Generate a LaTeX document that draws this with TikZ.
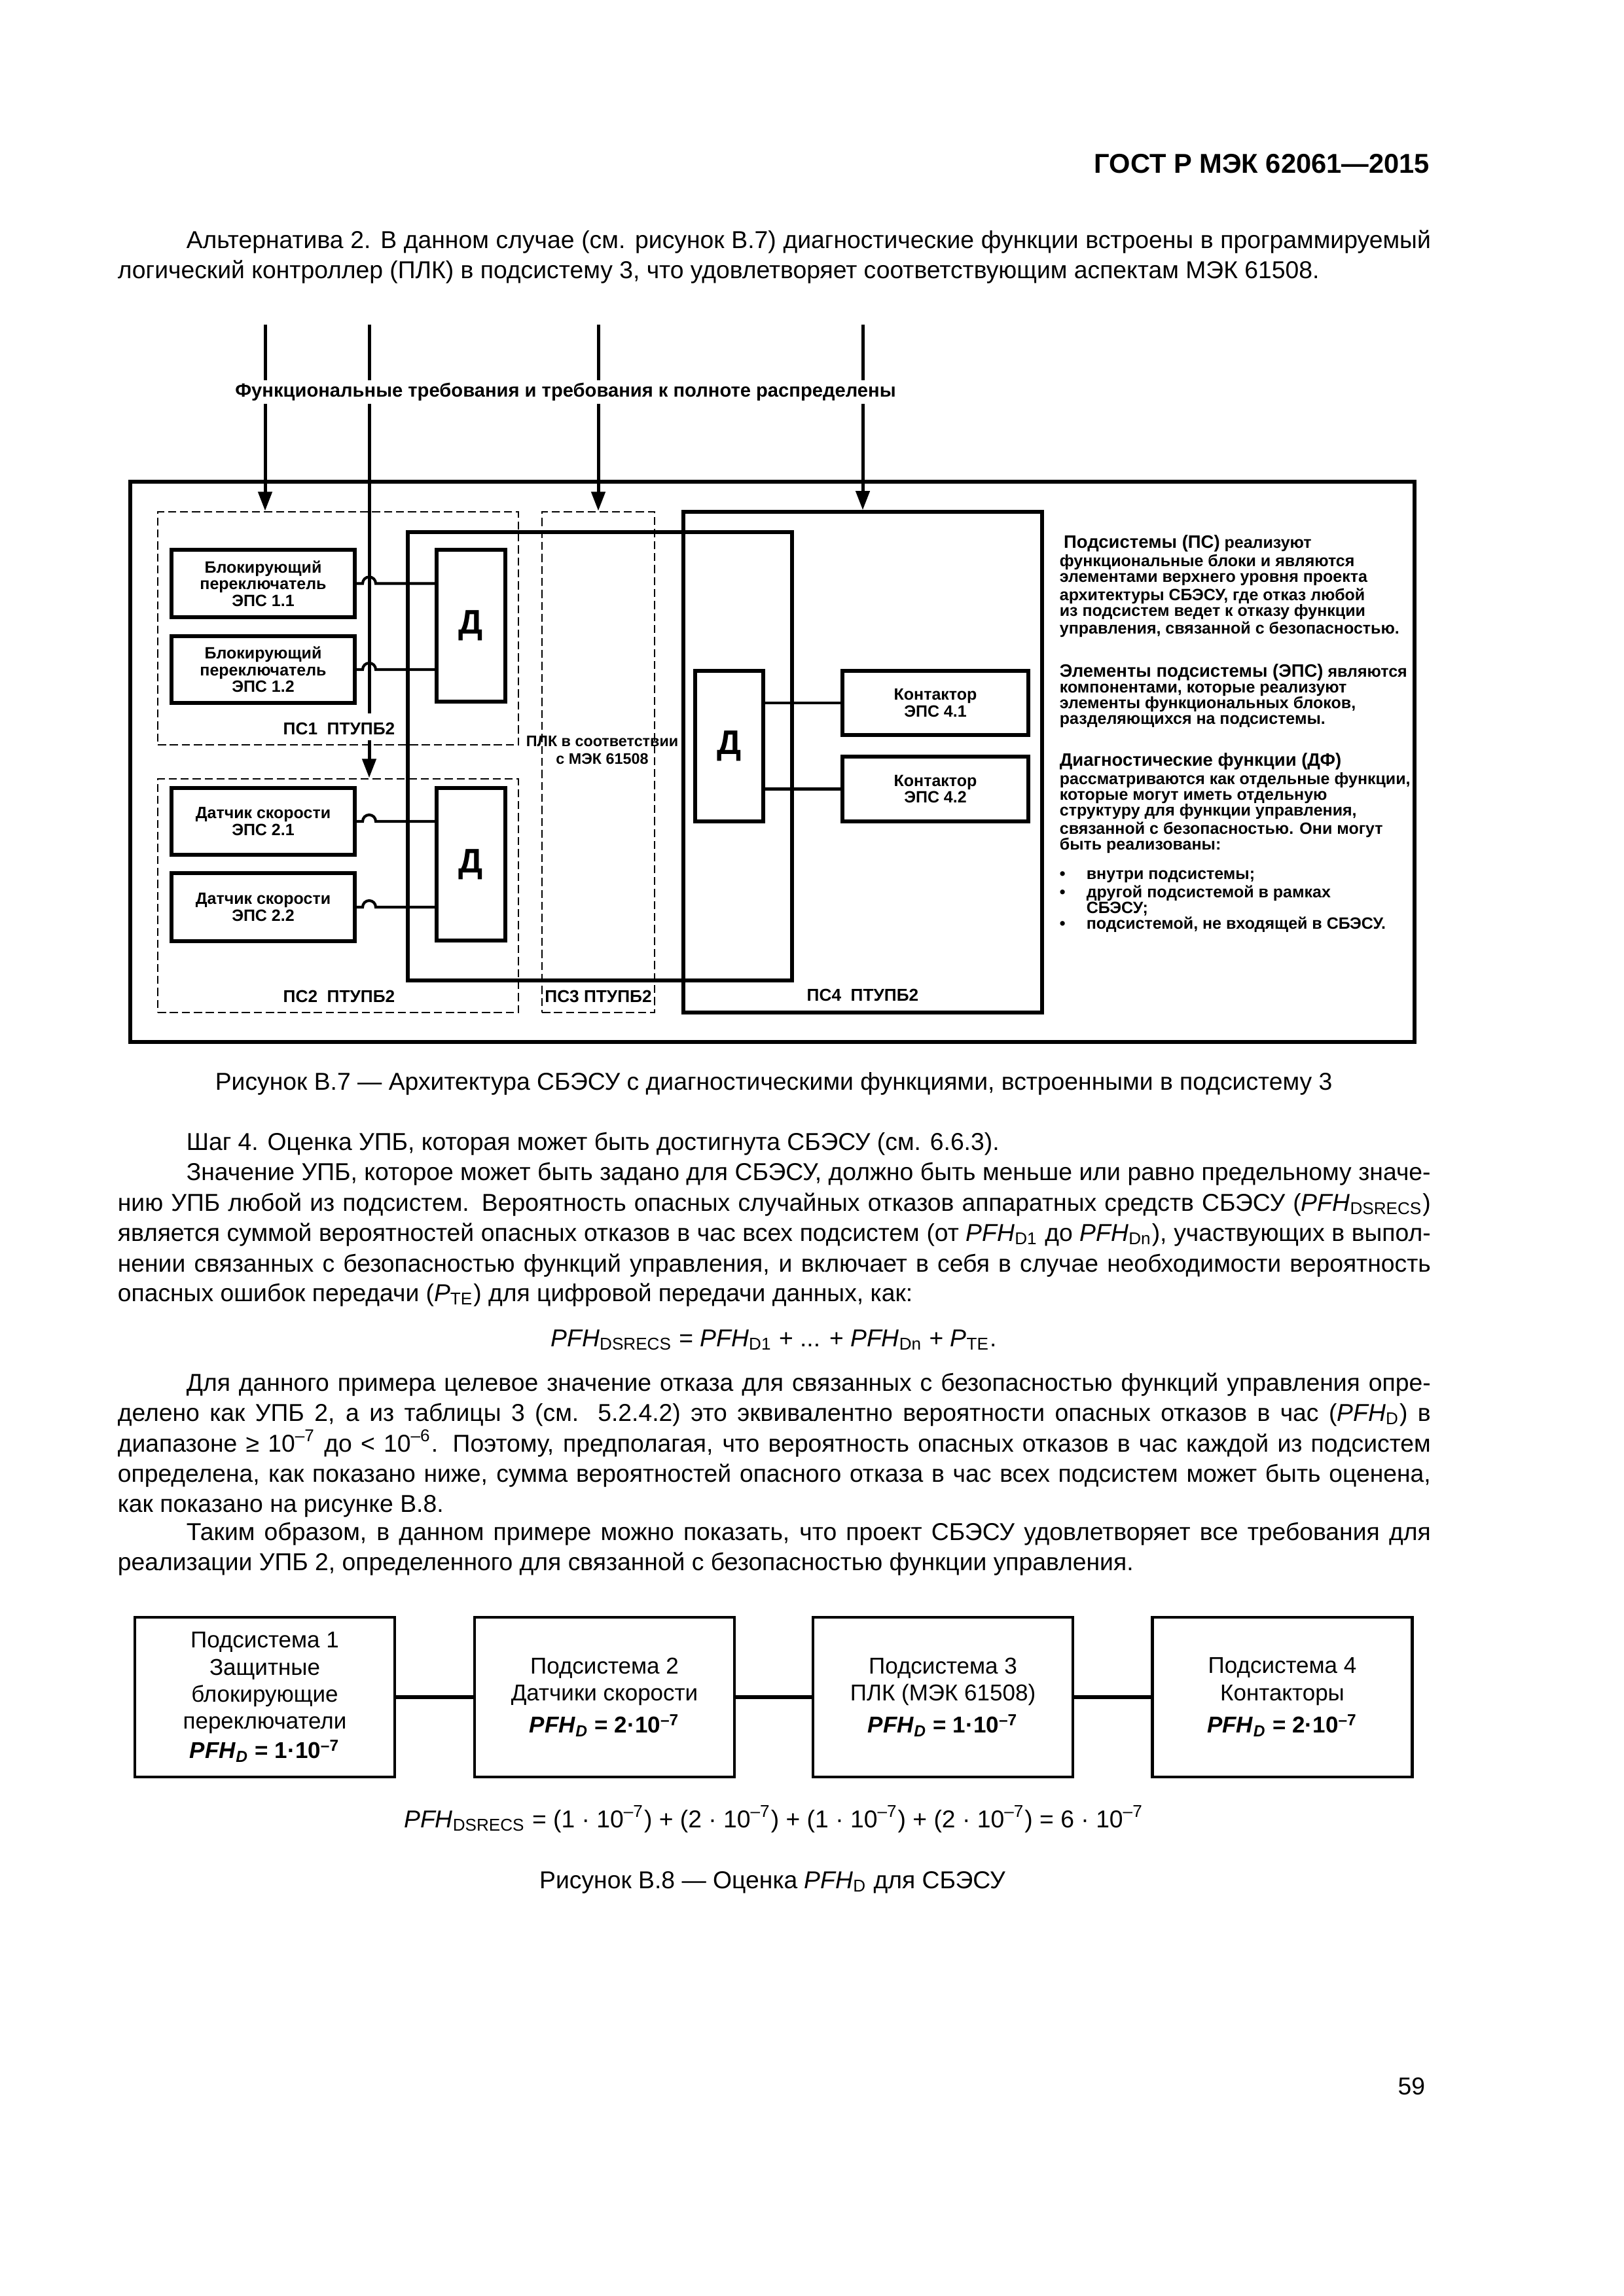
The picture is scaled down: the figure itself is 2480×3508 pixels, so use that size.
\documentclass[tikz,border=0pt]{standalone}
\usepackage{fontspec}
\setmainfont{Liberation Sans}
\usetikzlibrary{arrows.meta}
\newcommand{\jl}[1]{\makebox[481.44pt][s]{#1}}
\newcommand{\ji}[1]{\makebox[456.24pt][s]{#1}}
\newcommand{\msub}[1]{\textsubscript{#1}}
\newcommand{\msup}[1]{\textsuperscript{#1}}
\newcommand{\pfh}{\textit{PFH}}
\newcommand{\pfhd}{\textbf{\textit{PFH}\textsubscript{\textit{D}}}}
\newcommand{\hdw}{\fontsize{6.6}{5.7}\selectfont}
\newcommand{\blt}{\makebox[9.84pt][l]{•}}
\begin{document}
\begin{tikzpicture}[x=0.24pt,y=-0.24pt,
  sz/.style n args={2}{minimum width=#1*0.24pt,minimum height=#2*0.24pt},
  box/.style={draw,line width=1.3pt,inner sep=0pt},
  dbox/.style={draw,line width=0.7pt,dash pattern=on 3pt off 1.4pt,inner sep=0pt},
  conn/.style={line width=1pt},
  vline/.style={line width=1.2pt},
  arr/.style={line width=1.2pt,-{Triangle[length=7pt,width=5pt]}},
  ftxt/.style={font=\fontsize{6}{6.1}\selectfont\bfseries,align=center},
  lab/.style={font=\fontsize{6.3}{6.5}\selectfont\bfseries,inner sep=0pt,align=center},
  dtxt/.style={font=\fontsize{12.5}{12.5}\selectfont\bfseries},
  rtxt/.style={font=\fontsize{6}{5.7}\selectfont\bfseries,align=left,inner sep=0pt,anchor=base west},
  body/.style={font=\fontsize{8.95}{11}\selectfont,inner sep=0pt,anchor=base west},
  cbody/.style={font=\fontsize{8.95}{11}\selectfont,inner sep=0pt,anchor=base},
  bviii/.style={draw,line width=1.1pt,inner sep=0pt,align=center,font=\fontsize{8.4}{9.9}\selectfont,sz={397}{244}},
  link/.style={line width=1.3pt}]
\fill[white] (0,0) rectangle (2480,3508);
\useasboundingbox (0,0) rectangle (2480,3508);

% header
\node[font=\fontsize{10}{12}\selectfont\bfseries,inner sep=0pt,anchor=base east] (hdr) at (2185,265) {ГОСТ Р МЭК 62061—2015};

% paragraph 1
\node[body] (p1a) at (284,380) {\ji{Альтернатива 2. В данном случае (см. рисунок В.7) диагностические функции встроены в программируемый}};
\node[body] (p1b) at (179,426) {логический контроллер (ПЛК) в подсистему 3, что удовлетворяет соответствующим аспектам МЭК 61508.};

% ---------------- Figure B.7 ----------------
\node[box,sz={1962}{856}] (frame) at (1180,1164) {};
\node[dbox,sz={551}{356}] (ps1) at (516.5,960) {};
\node[dbox,sz={551}{357}] (ps2) at (516.5,1368.5) {};
\node[dbox,sz={172}{765}] (ps3) at (914,1164.5) {};
\node[box,sz={548}{765}] (ps4) at (1318,1164.5) {};
\node[box,sz={587}{685}] (plc) at (916.5,1155.5) {};
\node[box,dtxt,sz={105}{232}] (d1) at (719.5,956) {Д};
\node[box,dtxt,sz={105}{233}] (d2) at (719.5,1320.5) {Д};
\node[box,dtxt,sz={104}{230}] (d3) at (1114,1140) {Д};
\node[box,ftxt,sz={280}{103}] (sw1) at (402,891.5) {Блокирующий\\переключатель\\ЭПС 1.1};
\node[box,ftxt,sz={280}{102}] (sw2) at (402,1023) {Блокирующий\\переключатель\\ЭПС 1.2};
\node[box,ftxt,sz={280}{102}] (ss1) at (402,1255) {Датчик скорости\\ЭПС 2.1};
\node[box,ftxt,sz={280}{104}] (ss2) at (402,1386) {Датчик скорости\\ЭПС 2.2};
\node[box,ftxt,sz={284}{98}] (k1) at (1429,1074) {Контактор\\ЭПС 4.1};
\node[box,ftxt,sz={284}{99}] (k2) at (1429,1205.5) {Контактор\\ЭПС 4.2};

\node[lab] (l1) at (518,1113) {ПС1~~ПТУПБ2};
\node[lab] (l2) at (518,1522) {ПС2~~ПТУПБ2};
\node[lab] (l3) at (914,1522) {ПС3 ПТУПБ2};
\node[lab] (l4) at (1318,1520) {ПС4~~ПТУПБ2};
\node[lab,font=\fontsize{5.6}{6.5}\selectfont\bfseries] (plclab) at (920,1146) {ПЛК в соответствии\\с МЭК 61508};

% incoming requirement lines
\coordinate (t1) at (405,496);
\coordinate (t2) at (564,496);
\coordinate (t3) at (914,496);
\coordinate (t4) at (1318,496);
\coordinate (c2a) at (564,1090);
\coordinate (c2b) at (564,1131);
\draw[arr] (t1) -- (t1 |- ps1.north);
\draw[vline] (t2) -- (c2a);
\draw[arr] (c2b) -- (c2b |- ps2.north);
\draw[arr] (t3) -- (t3 |- ps3.north);
\draw[arr] (t4) -- (t4 |- ps4.north);
\node[fill=white,inner xsep=2pt,inner ysep=0pt,minimum height=8.6pt,font=\fontsize{7}{7}\selectfont\bfseries] (req) at (864,599) {Функциональные требования и требования к полноте распределены};

% connectors with hops
\coordinate (hop) at (554,0);
\draw[conn] (sw1.east) -- (sw1.east -| hop) arc[start angle=180,end angle=0,radius=2.4pt] -- (d1.west |- sw1.east);
\draw[conn] (sw2.east) -- (sw2.east -| hop) arc[start angle=180,end angle=0,radius=2.4pt] -- (d1.west |- sw2.east);
\draw[conn] (ss1.east) -- (ss1.east -| hop) arc[start angle=180,end angle=0,radius=2.4pt] -- (d2.west |- ss1.east);
\draw[conn] (ss2.east) -- (ss2.east -| hop) arc[start angle=180,end angle=0,radius=2.4pt] -- (d2.west |- ss2.east);
\draw[conn] (d3.east |- k1.west) -- (k1.west);
\draw[conn] (d3.east |- k2.west) -- (k2.west);

% explanatory text (anchor = baseline of the last line)
\node[rtxt] (rt1) at (1618,969) {\hspace*{1.5pt}{\hdw Подсистемы (ПС)} реализуют\\функциональные блоки и являются\\элементами верхнего уровня проекта\\архитектуры СБЭСУ, где отказ любой\\из подсистем ведет к отказу функции\\управления, связанной с безопасностью.};
\node[rtxt] (rt2) at (1618,1106) {{\hdw Элементы подсистемы (ЭПС)} являются\\компонентами, которые реализуют\\элементы функциональных блоков,\\разделяющихся на подсистемы.};
\node[rtxt] (rt3) at (1618,1298) {{\hdw Диагностические функции (ДФ)}\\рассматриваются как отдельные функции,\\которые могут иметь отдельную\\структуру для функции управления,\\связанной с безопасностью. Они могут\\быть реализованы:};
\node[rtxt] (rt4) at (1618,1419) {\blt внутри подсистемы;\\\blt другой подсистемой в рамках\\\hspace*{9.84pt}СБЭСУ;\\\blt подсистемой, не входящей в СБЭСУ.};

\node[cbody] (cap7) at (1182,1665) {Рисунок В.7 — Архитектура СБЭСУ с диагностическими функциями, встроенными в подсистему 3};

% body text
\node[body] (s4) at (284,1757) {Шаг 4. Оценка УПБ, которая может быть достигнута СБЭСУ (см. 6.6.3).};
\node[body] (z1) at (284,1803) {\ji{Значение УПБ, которое может быть задано для СБЭСУ, должно быть меньше или равно предельному значе-}};
\node[body] (z2) at (179,1850) {\jl{нию УПБ любой из подсистем. Вероятность опасных случайных отказов аппаратных средств СБЭСУ (\pfh\msub{DSRECS})}};
\node[body] (z3) at (179,1896) {\jl{является суммой вероятностей опасных отказов в час всех подсистем (от \pfh\msub{D1} до \pfh\msub{Dn}), участвующих в выпол-}};
\node[body] (z4) at (179,1943) {\jl{нении связанных с безопасностью функций управления, и включает в себя в случае необходимости вероятность}};
\node[body] (z5) at (179,1988) {опасных ошибок передачи (\textit{P}\msub{TE}) для цифровой передачи данных, как:};
\node[cbody] (f1) at (1182,2057) {\pfh\msub{DSRECS} = \pfh\msub{D1} + ... + \pfh\msub{Dn} + \textit{P}\msub{TE}.};
\node[body] (q1) at (284,2125) {\ji{Для данного примера целевое значение отказа для связанных с безопасностью функций управления опре-}};
\node[body] (q2) at (179,2171) {\jl{делено как УПБ 2, а из таблицы 3 (см. 5.2.4.2) это эквивалентно вероятности опасных отказов в час (\pfh\msub{D}) в}};
\node[body] (q3) at (179,2218) {\jl{диапазоне ≥ 10\msup{–7} до < 10\msup{–6}. Поэтому, предполагая, что вероятность опасных отказов в час каждой из подсистем}};
\node[body] (q4) at (179,2264) {\jl{определена, как показано ниже, сумма вероятностей опасного отказа в час всех подсистем может быть оценена,}};
\node[body] (q5) at (179,2310) {как показано на рисунке В.8.};
\node[body] (w1) at (284,2353) {\ji{Таким образом, в данном примере можно показать, что проект СБЭСУ удовлетворяет все требования для}};
\node[body] (w2) at (179,2399) {реализации УПБ 2, определенного для связанной с безопасностью функции управления.};

% ---------------- Figure B.8 ----------------
\node[bviii] (b1) at (404.5,2593) {Подсистема 1\\Защитные\\блокирующие\\переключатели\\[1pt]\pfhd{} \textbf{= 1·10\msup{–7}}};
\node[bviii] (b2) at (923.5,2593) {Подсистема 2\\Датчики скорости\\[2pt]\pfhd{} \textbf{= 2·10\msup{–7}}};
\node[bviii] (b3) at (1440.5,2593) {Подсистема 3\\ПЛК (МЭК 61508)\\[2pt]\pfhd{} \textbf{= 1·10\msup{–7}}};
\node[bviii] (b4) at (1959,2593) {Подсистема 4\\Контакторы\\[2pt]\pfhd{} \textbf{= 2·10\msup{–7}}};
\draw[link] (b1.east) -- (b2.west);
\draw[link] (b2.east) -- (b3.west);
\draw[link] (b3.east) -- (b4.west);

\node[cbody] (f2) at (1182,2792) {\pfh\msub{DSRECS} = (1 · 10\msup{–7}) + (2 · 10\msup{–7}) + (1 · 10\msup{–7}) + (2 · 10\msup{–7}) = 6 · 10\msup{–7}};
\node[cbody] (cap8) at (1180,2885) {Рисунок В.8 — Оценка \pfh\msub{D} для СБЭСУ};

\node[font=\fontsize{8.95}{11}\selectfont,inner sep=0pt,anchor=base east] (pg) at (2178,3200) {59};
\end{tikzpicture}
\end{document}
